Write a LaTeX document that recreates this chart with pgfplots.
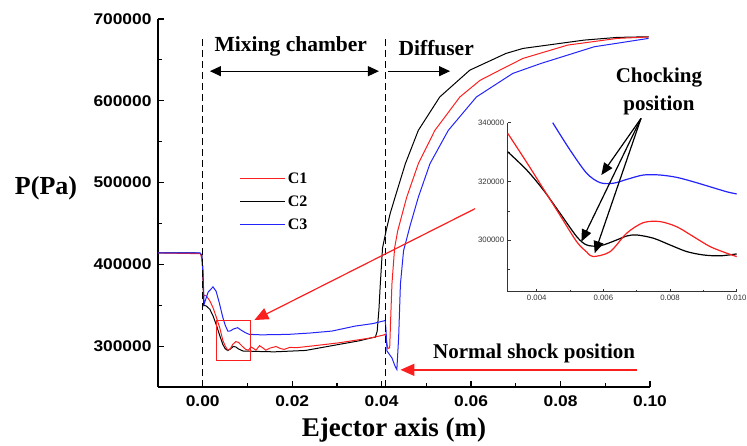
\documentclass[border=0pt]{standalone}
\usepackage{fontspec}
\setmainfont{Liberation Serif}
\setsansfont{Liberation Sans}
\newfontfamily\tickfont[FakeStretch=1.12]{Liberation Sans}
\usepackage{pgfplots}
\pgfplotsset{compat=1.18}
\usetikzlibrary{arrows.meta}

\definecolor{cred}{RGB}{250,30,30}
\definecolor{cblue}{RGB}{35,35,250}

\begin{document}
\begin{tikzpicture}
\begin{axis}[
  name=main,
  scale only axis,
  width=492pt, height=368pt,
  xmin=-0.01, xmax=0.10, ymin=250000, ymax=700000,
  axis x line*=bottom, axis y line*=left,
  axis line style={line width=1.5pt},
  tick align=inside,
  major tick length=6pt, minor tick length=4pt,
  every tick/.style={line width=1.2pt, black},
  xtick={0,0.02,0.04,0.06,0.08,0.10},
  minor xtick={0.01,0.03,0.05,0.07,0.09},
  ytick={300000,400000,500000,600000,700000},
  minor ytick={350000,450000,550000,650000},
  scaled x ticks=false, scaled y ticks=false,
  /pgf/number format/assume math mode=true,
  xticklabel style={/pgf/number format/fixed, /pgf/number format/fixed zerofill, /pgf/number format/precision=2, yshift=-5pt},
  yticklabel style={/pgf/number format/fixed, /pgf/number format/1000 sep={}, xshift=-3pt},
  tick label style={font=\tickfont\bfseries\fontsize{15.5}{15.5}\selectfont},
  clip=false,
  legend style={draw=none, fill=none, at={(0.16,0.594)}, anchor=north west,
    font=\bfseries\fontsize{16}{16}\selectfont, row sep=7pt},
  legend cell align=left,
  legend image code/.code={\draw[#1] (0pt,0pt) -- (45pt,0pt);},
  every axis plot/.append style={line width=1pt},
]
\addlegendimage{cred, line width=1pt}\addlegendentry{C1}
\addlegendimage{black, line width=1pt}\addlegendentry{C2}
\addlegendimage{cblue, line width=1pt}\addlegendentry{C3}

% C2
\addplot[black, forget plot] coordinates {
(-0.0100,414000) (-0.0020,414000) (-0.0006,413500) (-0.0002,411000) (0.0000,395000)
(0.0002,350000) (0.0008,349000) (0.0016,345000) (0.0023,337000) (0.0030,326600)
(0.0038,313000) (0.0045,302000) (0.0050,297000) (0.0056,294500) (0.0062,296500)
(0.0068,299500) (0.0074,299000) (0.0080,296500) (0.0090,294000) (0.0101,293900)
(0.0120,293500) (0.0160,293000) (0.0230,294700) (0.0304,302000) (0.0350,306500)
(0.0378,310200) (0.0386,311000) (0.0390,318000) (0.0394,345000) (0.0397,375700)
(0.0402,420000) (0.0410,441000) (0.0419,462000) (0.0430,482000) (0.0453,523000)
(0.0482,563800) (0.0530,604700) (0.0597,637400) (0.0678,657900) (0.0716,664000)
(0.0853,674200) (0.0927,677500) (0.0997,678300)};
% C1
\addplot[cred, forget plot] coordinates {
(-0.0100,414000) (-0.0005,413000) (-0.0001,405000) (0.0002,362000) (0.0008,361500)
(0.0016,355200) (0.0023,347000) (0.0030,336000) (0.0038,322500) (0.0045,307000)
(0.0050,300500) (0.0056,295000) (0.0062,297000) (0.0067,302000) (0.0074,305500)
(0.0080,304500) (0.0088,300000) (0.0096,296000) (0.0102,295000) (0.0108,299000)
(0.0114,297000) (0.0119,295000) (0.0127,300500) (0.0134,298000) (0.0141,295000)
(0.0150,297500) (0.0164,299500) (0.0174,297000) (0.0182,296000) (0.0195,298500)
(0.0208,298000) (0.0250,300500) (0.0304,304000) (0.0340,307000) (0.0378,310200)
(0.0404,313500) (0.0408,314500) (0.0411,306000) (0.0414,297000) (0.0418,298000)
(0.0420,330000) (0.0423,375700) (0.0429,420000) (0.0436,441100) (0.0456,482000)
(0.0482,523000) (0.0519,563800) (0.0575,604700) (0.0620,625000) (0.0664,637400)
(0.0716,651800) (0.0816,668100) (0.0927,676300) (0.0997,678000)};
% C3
\addplot[cblue, forget plot] coordinates {
(-0.0100,414000) (-0.0006,414000) (-0.0002,411000) (0.0001,385000) (0.0003,351000)
(0.0006,356000) (0.0012,366000) (0.0023,372400) (0.0030,367000) (0.0037,353000)
(0.0045,335000) (0.0050,326000) (0.0056,318400) (0.0062,318500) (0.0068,320800)
(0.0078,322500) (0.0086,319500) (0.0095,316500) (0.0104,314400) (0.0130,313800)
(0.0160,314000) (0.0193,314400) (0.0240,316000) (0.0289,318400) (0.0341,324500)
(0.0380,327500) (0.0404,330700) (0.0408,331500) (0.0410,318000) (0.0412,294000)
(0.0423,285600) (0.0430,275500) (0.0434,271400) (0.0438,310200) (0.0442,375700)
(0.0449,416600) (0.0464,448000) (0.0482,482000) (0.0508,523000) (0.0549,563800)
(0.0612,604700) (0.0693,633400) (0.0756,645600) (0.0875,666000) (0.0997,676300)};

% zone boundaries and annotations
\draw[black, line width=1.2pt, dash pattern=on 7pt off 4pt] (axis cs:0,250000) -- (axis cs:0,677000);
\draw[black, line width=1.2pt, dash pattern=on 7pt off 4pt] (axis cs:0.0409,250000) -- (axis cs:0.0409,680000);
\draw[black, line width=1pt, {Triangle[length=11pt,width=10pt]}-{Triangle[length=11pt,width=10pt]}]
  (axis cs:0.0016,636200) -- (axis cs:0.0394,636200);
\draw[black, line width=1pt, -{Triangle[length=11pt,width=10pt]}]
  (axis cs:0.0414,636200) -- (axis cs:0.0553,636200);
\node[font=\bfseries\fontsize{21.5}{21.5}\selectfont] at (axis cs:0.0197,666000) {Mixing chamber};
\node[font=\bfseries\fontsize{21.5}{21.5}\selectfont] at (axis cs:0.0522,665000) {Diffuser};
\node[font=\bfseries\fontsize{21}{21}\selectfont] at (axis cs:0.0741,290500) {Normal shock position};
\node[font=\bfseries\fontsize{21}{28}\selectfont, align=center] at (axis cs:0.1020,611000) {Chocking\\position};
\draw[cred, line width=1pt] (axis cs:0.00304,282800) rectangle (axis cs:0.0106,331500);
\draw[cred, line width=1.2pt, -{Triangle[length=14pt,width=12pt]}]
  (axis cs:0.0609,468100) -- (axis cs:0.01156,331900);
\draw[cred, line width=1.5pt, -{Triangle[length=14pt,width=12pt]}]
  (axis cs:0.0971,271000) -- (axis cs:0.0442,271000);
\end{axis}

\node[font=\bfseries\fontsize{27}{27}\selectfont] at ([shift={(236pt,-43pt)}]main.south west) {Ejector axis (m)};
\node[font=\bfseries\fontsize{26}{26}\selectfont] at ([shift={(-112pt,199pt)}]main.south west) {P(Pa)};
\coordinate (insetO) at ([shift={(349.7pt,95.3pt)}]main.south west);

\begin{axis}[
  at={(insetO)}, anchor=south west,
  scale only axis,
  width=229pt, height=169pt,
  xmin=0.00313, xmax=0.010, ymin=282500, ymax=340000,
  axis x line*=bottom, axis y line*=left,
  axis line style={line width=0.8pt, black!80},
  tick align=inside,
  major tick length=3pt, minor tick length=2pt,
  every tick/.style={line width=0.6pt, black!80},
  xtick={0.004,0.006,0.008,0.010},
  minor xtick={0.005,0.007,0.009},
  ytick={300000,320000,340000},
  minor ytick={290000,310000,330000},
  scaled x ticks=false, scaled y ticks=false,
  /pgf/number format/assume math mode=true,
  xticklabel style={/pgf/number format/fixed, /pgf/number format/fixed zerofill, /pgf/number format/precision=3},
  yticklabel style={/pgf/number format/fixed, /pgf/number format/1000 sep={}},
  tick label style={font=\sffamily\fontsize{7.8}{7.8}\selectfont, text=black!80},
  clip=false,
  every axis plot/.append style={line width=1.2pt, smooth},
]
\addplot[black] coordinates {
(0.00313,330100) (0.0037,323900) (0.0042,317100) (0.0047,309200) (0.0052,301250)
(0.0055,298400) (0.0059,298100) (0.0064,300100) (0.0067,301450) (0.0070,301800)
(0.0075,300700) (0.0080,298400) (0.0085,296150) (0.0090,295000) (0.0095,294700)
(0.0100,295350)};
\addplot[cred] coordinates {
(0.00313,336400) (0.0037,326500) (0.0042,317500) (0.0047,308500) (0.0052,299500)
(0.0055,296000) (0.00569,294450) (0.0062,296100) (0.0067,302400) (0.0072,306000)
(0.0077,306350) (0.0082,304600) (0.0087,301250) (0.0092,297850) (0.0097,295600)
(0.0100,294450)};
\addplot[cblue] coordinates {
(0.00448,340000) (0.0050,330700) (0.0055,322800) (0.0059,319600) (0.0063,319400)
(0.0067,320700) (0.0072,322200) (0.0077,322200) (0.0082,321400) (0.0087,319900)
(0.0092,318200) (0.0097,316500) (0.0100,315750)};
\draw[black, line width=1.2pt, -{Triangle[length=12pt,width=10pt]}]
  (axis cs:0.00713,341470) -- (axis cs:0.00594,322200);
\draw[black, line width=1.2pt, -{Triangle[length=12pt,width=10pt]}]
  (axis cs:0.00713,341470) -- (axis cs:0.00534,299550);
\draw[black, line width=1.2pt, -{Triangle[length=12pt,width=10pt]}]
  (axis cs:0.00713,341470) -- (axis cs:0.00574,295600);
\end{axis}

\pgfresetboundingbox
\path[use as bounding box] ([shift={(-158pt,-59pt)}]main.south west) rectangle ++(747pt,446pt);
\end{tikzpicture}
\end{document}
